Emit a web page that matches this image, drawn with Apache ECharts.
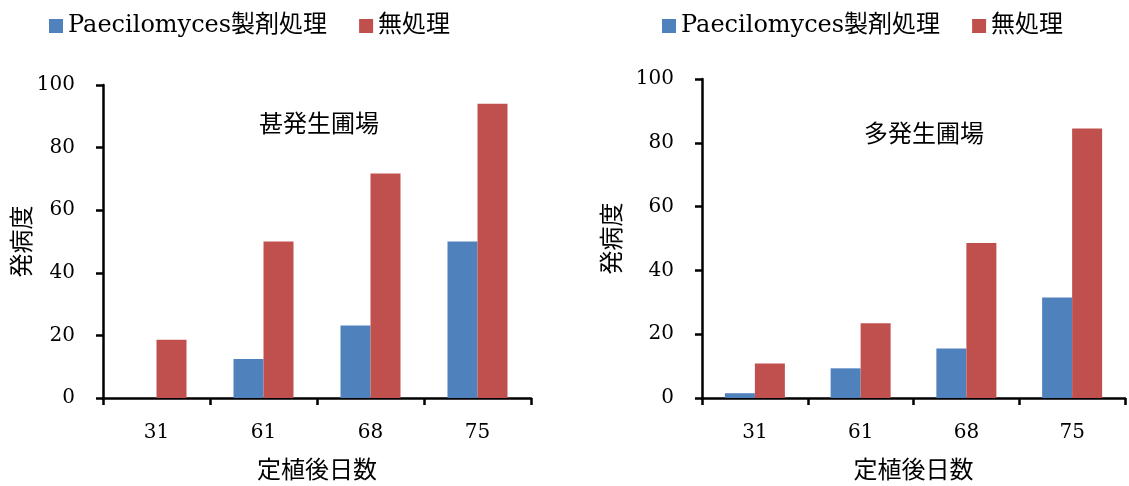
<!DOCTYPE html>
<html>
<head>
<meta charset="utf-8">
<script src="https://cdn.jsdelivr.net/npm/echarts@6/dist/echarts.min.js"></script>
<style>
html,body{margin:0;padding:0;background:#fff;}
#chart{width:1129px;height:486px;}
</style>
</head>
<body>
<div id="chart"></div>
<script>
var categories = ['31', '61', '68', '75'];
var seriesNames = ['Paecilomyces製剤処理', '無処理'];
var panelTitles = ['甚発生圃場', '多発生圃場'];
var xAxisTitle = '定植後日数';
var yAxisTitle = '発病度';
// 甚発生圃場
var severeTreated = [0, 12.5, 23.2, 50.0];
var severeUntreated = [18.6, 50.0, 71.7, 94.0];
// 多発生圃場
var highTreated = [1.5, 9.3, 15.5, 31.5];
var highUntreated = [10.8, 23.4, 48.6, 84.5];

var BLUE = '#4F81BD', RED = '#C0504D';
var SERIF = "'DejaVu Serif', 'Noto Sans CJK JP', serif";
var CJK = "'Noto Sans CJK JP', sans-serif";

function xAxisCfg(idx, gap) {
  return {
    type: 'category', gridIndex: idx, data: categories,
    axisLine: {lineStyle: {color: '#000', width: 2.5}},
    axisTick: {show: true, length: 7, lineStyle: {color: '#000', width: 2.5}},
    axisLabel: {color: '#000', fontFamily: SERIF, fontSize: 20, margin: 25},
    name: xAxisTitle, nameLocation: 'middle', nameGap: 59,
    nameTextStyle: {color: '#000', fontFamily: CJK, fontSize: 24}
  };
}
function yAxisCfg(idx, gap) {
  return {
    type: 'value', gridIndex: idx, min: 0, max: 100, interval: 20,
    axisLine: {show: true, lineStyle: {color: '#000', width: 2.5}},
    axisTick: {show: true, length: 7, lineStyle: {color: '#000', width: 2.5}},
    splitLine: {show: false},
    axisLabel: {color: '#000', fontFamily: SERIF, fontSize: 20, margin: 28},
    name: yAxisTitle, nameLocation: 'middle', nameGap: gap, nameRotate: 90,
    nameTextStyle: {color: '#000', fontFamily: CJK, fontSize: 24}
  };
}
function barSeries(name, data, color, idx) {
  return {
    type: 'bar', name: name, data: data, xAxisIndex: idx, yAxisIndex: idx,
    barWidth: 30, barGap: '0%',
    itemStyle: {color: color, borderWidth: 0},
    emphasis: {disabled: true}
  };
}
function legendCfg(left) {
  return {
    left: left, top: 9, data: seriesNames, icon: 'rect',
    itemWidth: 14, itemHeight: 14, itemGap: 32,
    textStyle: {color: '#000', fontFamily: SERIF, fontSize: 24}
  };
}

var chart = echarts.init(document.getElementById('chart'), null, {renderer: 'canvas'});
chart.setOption({
  animation: false,
  backgroundColor: '#fff',
  legend: [legendCfg(44), legendCfg(657)],
  title: [
    {text: panelTitles[0], left: 314, top: 106, textAlign: 'center',
     textStyle: {color: '#000', fontFamily: CJK, fontSize: 24, fontWeight: 'normal'}},
    {text: panelTitles[1], left: 919, top: 116, textAlign: 'center',
     textStyle: {color: '#000', fontFamily: CJK, fontSize: 24, fontWeight: 'normal'}}
  ],
  grid: [
    {left: 103, top: 85, width: 428, height: 318, containLabel: false},
    {left: 702, top: 79, width: 423, height: 322.5, containLabel: false}
  ],
  xAxis: [xAxisCfg(0), xAxisCfg(1)],
  yAxis: [yAxisCfg(0, 70), yAxisCfg(1, 79)],
  series: [
    barSeries(seriesNames[0], severeTreated, BLUE, 0),
    barSeries(seriesNames[1], severeUntreated, RED, 0),
    barSeries(seriesNames[0], highTreated, BLUE, 1),
    barSeries(seriesNames[1], highUntreated, RED, 1)
  ]
});
</script>
</body>
</html>
